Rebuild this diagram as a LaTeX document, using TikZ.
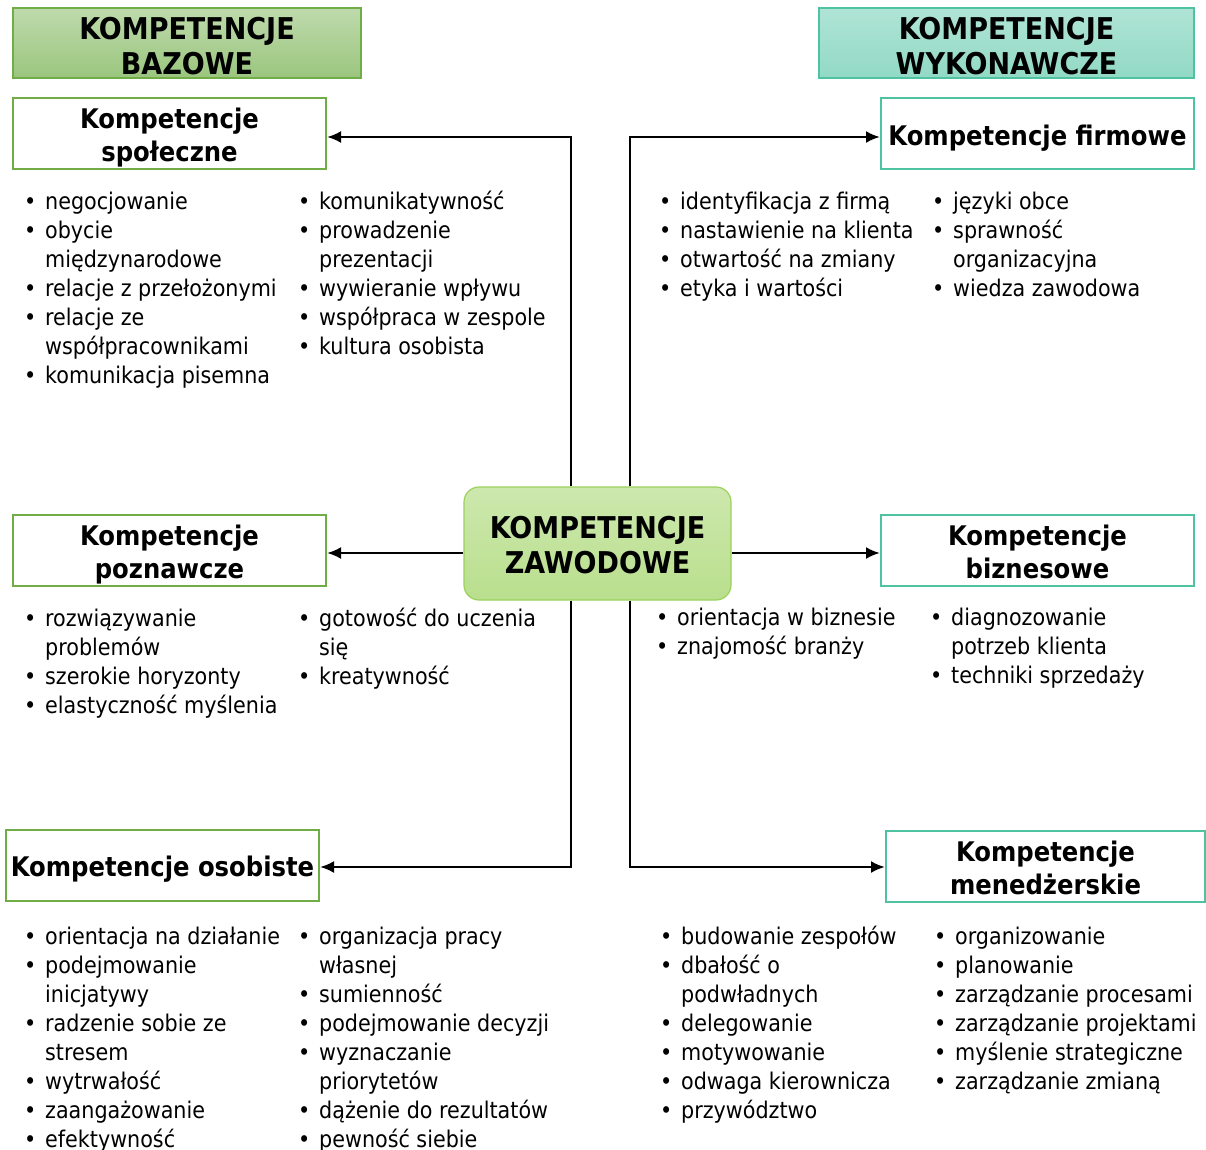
\documentclass[tikz,border=0pt]{standalone}
\usepackage{fontspec}
\setmainfont{DejaVu Sans Condensed}
\usepackage{tikz}
\usetikzlibrary{arrows.meta}
\definecolor{grnline}{HTML}{70AD47}
\definecolor{tealine}{HTML}{4FC3A1}
\definecolor{cenline}{HTML}{9BD15C}
\tikzstyle{hdrbox} = [draw, line width=1.2pt, minimum height=70pt, align=center,
    inner sep=0pt, font=\bfseries\fontsize{30}{35}\selectfont]
\tikzstyle{grpbox} = [draw, line width=2pt, fill=white, minimum width=313pt,
    minimum height=71pt, align=center, inner sep=0pt,
    font=\bfseries\fontsize{27}{33}\selectfont]
\tikzstyle{blist} = [anchor=north west, align=left, inner sep=0pt,
    font=\fontsize{23}{29}\selectfont]
\tikzstyle{conn} = [line width=2.4pt, -{Latex[length=14pt,width=12pt]}]
\newcommand{\li}[1]{\strut\makebox[17pt][l]{\kern-4pt\textbullet}#1\\}
\newcommand{\lc}[1]{\strut\hspace*{17pt}#1\\}
\newcommand{\hlift}[1]{\rule{0pt}{#1}}

\begin{document}
\begin{tikzpicture}[x=1pt,y=-1pt]
	\useasboundingbox (0,0) rectangle (1206,1149);
	
	\node(bazo) at (187,43) [hdrbox, grnline, top color=grnline!45, bottom color=grnline!70, text=black, minimum width=348pt] {\hlift{28pt}KOMPETENCJE\\BAZOWE};
	\node(wyko) at (1006.5,43) [hdrbox, tealine, top color=tealine!45, bottom color=tealine!62, text=black, minimum width=375pt] {\hlift{28pt}KOMPETENCJE\\WYKONAWCZE};
	
	\node(zaw) at (597.5,543.5) [draw=cenline, line width=1.2pt, rounded corners=15pt, top color=cenline!50, bottom color=cenline!70,
	    minimum width=267pt, minimum height=113pt, align=center, inner sep=0pt,
	    font=\bfseries\fontsize{30}{35}\selectfont] {\hlift{25pt}KOMPETENCJE\\ZAWODOWE};
	
	\node(spol) at (169.5,133.5) [grpbox, draw=grnline] {\hlift{29.5pt}Kompetencje\\społeczne};
	\node(pozn) at (169.5,550.5) [grpbox, draw=grnline] {\hlift{29.5pt}Kompetencje\\poznawcze};
	\node(osob) at (162.5,865) [grpbox, draw=grnline] {\hlift{29.5pt}Kompetencje osobiste};
	\node(firm) at (1037.5,133.5) [grpbox, draw=tealine] {\hlift{29.5pt}Kompetencje firmowe};
	\node(bizn) at (1037.5,550.5) [grpbox, draw=tealine] {\hlift{24pt}Kompetencje\\biznesowe};
	\node(mene) at (1045.5,866.5) [grpbox, draw=tealine, minimum width=319pt] {\hlift{24pt}Kompetencje\\menedżerskie};
	
	\coordinate(ltrunk) at (571,0);
	\coordinate(rtrunk) at (630,0);
	\draw[conn] (zaw.north -| ltrunk) |- ([yshift=-3.5pt]spol.east);
	\draw[conn] ([yshift=-2.5pt]zaw.west |- pozn.east) -- ([yshift=-2.5pt]pozn.east);
	\draw[conn] (zaw.south -| ltrunk) |- ([yshift=-2pt]osob.east);
	\draw[conn] (zaw.north -| rtrunk) |- ([yshift=-3.5pt]firm.west);
	\draw[conn] ([yshift=-2.5pt]zaw.east |- bizn.west) -- ([yshift=-2.5pt]bizn.west);
	\draw[conn] (zaw.south -| rtrunk) |- ([yshift=-0.5pt]mene.west);
	
	\node(spolA) at (28,189) [blist] {\li{negocjowanie}\li{obycie}\lc{międzynarodowe}\li{relacje z przełożonymi}\li{relacje ze}\lc{współpracownikami}\li{komunikacja pisemna}};
	\node(spolB) at (302,189) [blist] {\li{komunikatywność}\li{prowadzenie}\lc{prezentacji}\li{wywieranie wpływu}\li{współpraca w zespole}\li{kultura osobista}};
	
	\node(firmA) at (663,189) [blist] {\li{identyfikacja z firmą}\li{nastawienie na klienta}\li{otwartość na zmiany}\li{etyka i wartości}};
	\node(firmB) at (936,189) [blist] {\li{języki obce}\li{sprawność}\lc{organizacyjna}\li{wiedza zawodowa}};
	
	\node(poznA) at (28,606) [blist] {\li{rozwiązywanie}\lc{problemów}\li{szerokie horyzonty}\li{elastyczność myślenia}};
	\node(poznB) at (302,606) [blist] {\li{gotowość do uczenia}\lc{się}\li{kreatywność}};
	
	\node(biznA) at (660,605) [blist] {\li{orientacja w biznesie}\li{znajomość branży}};
	\node(biznB) at (934,605) [blist] {\li{diagnozowanie}\lc{potrzeb klienta}\li{techniki sprzedaży}};
	
	\node(osobA) at (28,924) [blist] {\li{orientacja na działanie}\li{podejmowanie}\lc{inicjatywy}\li{radzenie sobie ze}\lc{stresem}\li{wytrwałość}\li{zaangażowanie}\li{efektywność}};
	\node(osobB) at (302,924) [blist] {\li{organizacja pracy}\lc{własnej}\li{sumienność}\li{podejmowanie decyzji}\li{wyznaczanie}\lc{priorytetów}\li{dążenie do rezultatów}\li{pewność siebie}};
	
	\node(meneA) at (664,924) [blist] {\li{budowanie zespołów}\li{dbałość o}\lc{podwładnych}\li{delegowanie}\li{motywowanie}\li{odwaga kierownicza}\li{przywództwo}};
	\node(meneB) at (938,924) [blist] {\li{organizowanie}\li{planowanie}\li{zarządzanie procesami}\li{zarządzanie projektami}\li{myślenie strategiczne}\li{zarządzanie zmianą}};
\end{tikzpicture}
\end{document}
